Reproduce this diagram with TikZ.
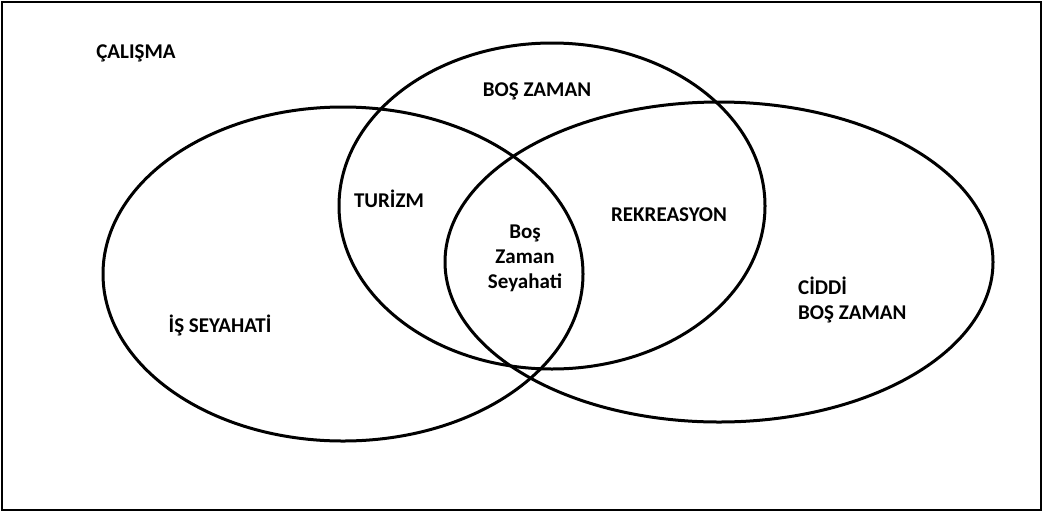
\documentclass[tikz,border=0pt]{standalone}
\usepackage{fontspec}
\setmainfont{Carlito}
\usetikzlibrary{shapes.geometric,positioning}

\begin{document}
\begin{tikzpicture}[x=1pt,y=-1pt,node distance=25pt]
		\tikzstyle{set}=[ellipse, draw=black, line width=3pt, inner sep=0pt]
		\tikzstyle{tag}=[font=\bfseries\fontsize{21}{25}\selectfont, inner sep=0pt]

		\useasboundingbox (0,0) rectangle (1043,512);
		\draw[line width=2pt] (2,2) rectangle (1041,510);

		\node [set, minimum width=480pt, minimum height=334pt] (travel) at (343,274) {};
		\node [set, minimum width=426pt, minimum height=326pt] (leisure) at (552,206) {};
		\node [set, minimum width=548pt, minimum height=320pt] (serious) at (719,262) {};

		\node [tag] (calisma) at (136,53) {ÇALIŞMA};
		\node [tag] (bos) at (537,91) {BOŞ ZAMAN};
		\node [tag] (turizm) at (389,199) {TURİZM};
		\node [tag] (rekreasyon) at (669,215) {REKREASYON};
		\node [tag, align=center] (seyahat) at (525,258) {Boş\\Zaman\\Seyahati};
		\node [tag, align=left, anchor=west] (ciddi) at (798,300) {CİDDİ\\BOŞ ZAMAN};
		\node [tag] (is) at (220,325) {İŞ SEYAHATİ};
	\end{tikzpicture}
\end{document}
